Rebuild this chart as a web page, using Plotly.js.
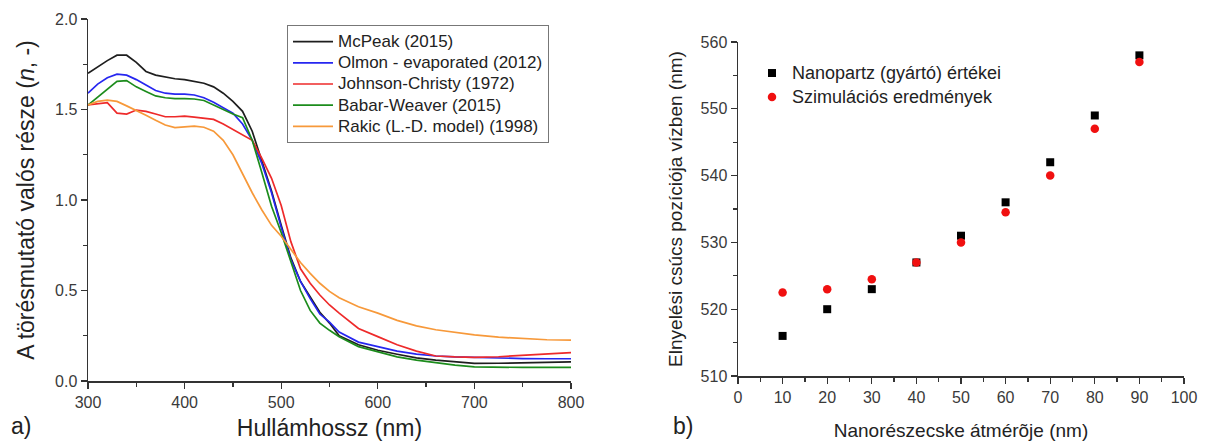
<!DOCTYPE html>
<html>
<head>
<meta charset="utf-8">
<script src="https://cdn.plot.ly/plotly-3.0.1.min.js"></script>
<style>html,body{margin:0;padding:0;background:#fff;}#chart{width:1205px;height:441px;}</style>
</head>
<body>
<div id="chart"></div>
<script>
// ---- Panel a) refractive index (real part) vs wavelength ----
const wavelength = [300,310,320,330,340,350,360,370,380,390,400,410,420,430,440,450,460,470,480,490,500,510,520,530,540,550,560,580,600,620,640,660,680,700,725,750,775,800];
const mcpeak  = [1.70,1.735,1.77,1.80,1.80,1.76,1.71,1.69,1.68,1.67,1.665,1.655,1.645,1.625,1.59,1.545,1.49,1.38,1.22,1.05,0.86,0.68,0.55,0.465,0.38,0.32,0.25,0.20,0.17,0.148,0.128,0.115,0.104,0.097,0.098,0.100,0.102,0.106];
const olmon   = [1.59,1.64,1.675,1.695,1.69,1.665,1.635,1.605,1.59,1.585,1.585,1.58,1.565,1.54,1.51,1.48,1.42,1.33,1.20,1.04,0.85,0.67,0.55,0.455,0.37,0.325,0.27,0.215,0.19,0.165,0.148,0.138,0.133,0.13,0.125,0.124,0.123,0.123];
const johnson = [1.525,1.53,1.538,1.48,1.475,1.497,1.49,1.475,1.46,1.46,1.463,1.458,1.452,1.445,1.42,1.39,1.36,1.33,1.23,1.12,0.97,0.77,0.62,0.54,0.475,0.42,0.375,0.29,0.245,0.20,0.165,0.138,0.133,0.131,0.134,0.142,0.15,0.157];
const babar   = [1.525,1.57,1.615,1.655,1.66,1.625,1.60,1.575,1.565,1.56,1.56,1.558,1.55,1.525,1.50,1.475,1.455,1.33,1.15,0.965,0.82,0.66,0.50,0.39,0.32,0.28,0.245,0.19,0.16,0.133,0.115,0.10,0.088,0.078,0.075,0.075,0.075,0.075];
const rakic   = [1.525,1.545,1.552,1.545,1.52,1.495,1.468,1.44,1.414,1.40,1.403,1.408,1.402,1.38,1.33,1.25,1.145,1.04,0.945,0.86,0.80,0.725,0.655,0.595,0.54,0.495,0.46,0.41,0.375,0.335,0.305,0.283,0.268,0.255,0.242,0.233,0.228,0.226];
const seriesNamesA = ["McPeak (2015)","Olmon - evaporated (2012)","Johnson-Christy (1972)","Babar-Weaver (2015)","Rakic (L.-D. model) (1998)"];

// ---- Panel b) absorption peak position vs particle diameter ----
const diameter   = [10,20,30,40,50,60,70,80,90];
const nanopartz  = [516,520,523,527,531,536,542,549,558];
const simulation = [522.5,523,524.5,527,530,534.5,540,547,557];
const seriesNamesB = ["Nanopartz (gyártó) értékei","Szimulációs eredmények"];

const FONT = "Arial, 'Liberation Sans', sans-serif";
const colorsA = ["#1e1e1e","#2626f0","#ee2a2a","#1c8c1c","#f7993a"];
const ysA = [mcpeak, olmon, johnson, babar, rakic];

const span = (t, px) => '<span style="font-size:' + px + 'px">' + t + '</span>';

const traces = ysA.map((ys, i) => ({
  type: "scatter", mode: "lines", x: wavelength, y: ys, name: span(seriesNamesA[i], 17),
  line: {color: colorsA[i], width: 1.7}, xaxis: "x", yaxis: "y", legend: "legend"
}));
traces.push({
  type: "scatter", mode: "markers", x: diameter, y: nanopartz, name: span(seriesNamesB[0], 18),
  marker: {symbol: "square", size: 8, color: "#000"}, xaxis: "x2", yaxis: "y2", legend: "legend2"
});
traces.push({
  type: "scatter", mode: "markers", x: diameter, y: simulation, name: span(seriesNamesB[1], 18),
  marker: {symbol: "circle", size: 8.5, color: "#f01010"}, xaxis: "x2", yaxis: "y2", legend: "legend2"
});

const axisCommon = {
  showline: true, linecolor: "#333", linewidth: 1.5, mirror: false,
  ticks: "outside", ticklen: 6, tickwidth: 1.3, tickcolor: "#333",
  showgrid: false, zeroline: false,
  tickfont: {family: FONT, size: 16, color: "#3a3a3a"}
};

const layout = {
  width: 1205, height: 441,
  margin: {l: 0, r: 0, t: 0, b: 0},
  paper_bgcolor: "#fff", plot_bgcolor: "#fff",
  font: {family: FONT, color: "#222"},
  xaxis: Object.assign({}, axisCommon, {
    domain: [88/1205, 571/1205], range: [300, 800], dtick: 100, tick0: 300,
    minor: {dtick: 50, ticks: "outside", ticklen: 4, tickcolor: "#333", showgrid: false},
    anchor: "y",
    title: {text: "Hullámhossz (nm)", font: {family: FONT, size: 23, color: "#222"}, standoff: 11}
  }),
  yaxis: Object.assign({}, axisCommon, {
    domain: [1 - 381/441, 1 - 19/441], range: [0, 2], dtick: 0.5, tick0: 0, tickformat: ".1f",
    minor: {dtick: 0.25, ticks: "outside", ticklen: 4, tickcolor: "#333", showgrid: false},
    anchor: "x",
    title: {text: "A törésmutató valós része (<i>n</i>, -)", font: {family: FONT, size: 23, color: "#222"}, standoff: 14}
  }),
  xaxis2: Object.assign({}, axisCommon, {
    domain: [738/1205, 1184/1205], range: [0, 100], dtick: 10, tick0: 0,
    minor: {dtick: 5, ticks: "outside", ticklen: 4, tickcolor: "#333", showgrid: false},
    anchor: "y2",
    title: {text: "Nanorészecske átmérõje (nm)", font: {family: FONT, size: 19, color: "#222"}, standoff: 19}
  }),
  yaxis2: Object.assign({}, axisCommon, {
    domain: [1 - 376/441, 1 - 42/441], range: [510, 560], dtick: 10, tick0: 510,
    minor: {dtick: 5, ticks: "outside", ticklen: 4, tickcolor: "#333", showgrid: false},
    anchor: "x2",
    title: {text: "Elnyelési csúcs pozíciója vízben (nm)", font: {family: FONT, size: 19, color: "#222"}, standoff: 13}
  }),
  showlegend: true,
  legend: {
    x: 287/1205, y: 1 - 25/441, xanchor: "left", yanchor: "top",
    bgcolor: "#fff", bordercolor: "#777", borderwidth: 1, itemwidth: 40,
    font: {family: FONT, size: 14, color: "#222"}, tracegroupgap: 0
  },
  legend2: {
    x: 752/1205, y: 1 - 56/441, xanchor: "left", yanchor: "top",
    bgcolor: "rgba(0,0,0,0)", borderwidth: 0,
    font: {family: FONT, size: 16.2, color: "#222"}, tracegroupgap: 0
  },
  annotations: [
    {text: "a)", xref: "paper", yref: "paper", x: 9/1205, y: 0, xanchor: "left", yanchor: "bottom",
     showarrow: false, font: {family: FONT, size: 23, color: "#222"}},
    {text: "b)", xref: "paper", yref: "paper", x: 671/1205, y: 0, xanchor: "left", yanchor: "bottom",
     showarrow: false, font: {family: FONT, size: 23, color: "#222"}}
  ]
};

Plotly.newPlot("chart", traces, layout, {displayModeBar: false, staticPlot: true});
</script>
</body>
</html>
